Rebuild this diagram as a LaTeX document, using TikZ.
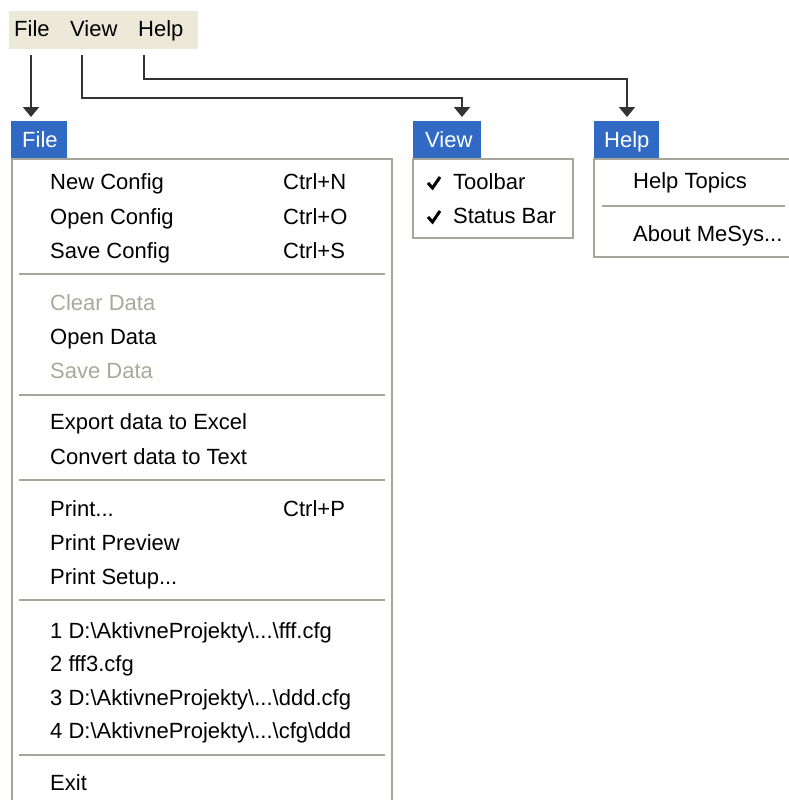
\documentclass[tikz,border=0pt]{standalone}
\usepackage{fontspec}
\setmainfont{Liberation Sans}
\usetikzlibrary{arrows.meta}
\definecolor{xpblue}{HTML}{316AC5}
\definecolor{xpbar}{HTML}{ECE9D8}
\definecolor{xpgray}{HTML}{ACA899}
\definecolor{xpline}{HTML}{A7A49A}
\definecolor{conncol}{HTML}{333333}
\begin{document}
\begin{tikzpicture}[x=1pt,y=-1pt,
  txt/.style={anchor=base west,inner sep=0pt,font=\fontsize{22}{26}\selectfont,text=black},
  dis/.style={txt,text=xpgray},
  ttl/.style={txt,text=white},
  titlebox/.style={fill=xpblue,draw=none,anchor=north west,inner sep=0pt},
  menubox/.style={draw=xpline,line width=1.6pt,fill=white},
  sep/.style={draw=xpline,line width=1.6pt},
  conn/.style={draw=conncol,line width=2pt,-{Triangle[width=16pt,length=10pt]}},
  chk/.style={draw=black,line width=3pt,line join=miter}]
\useasboundingbox (0,0) rectangle (788,800);
\fill[white] (0,0) rectangle (788,800);
% menu bar
\fill[xpbar] (9,11) rectangle (198,49);
\node[txt] (bfile) at (14,37) {File};
\node[txt] (bview) at (70,37) {View};
\node[txt] (bhelp) at (138,37) {Help};
% titles
\node[titlebox,minimum width=56pt,minimum height=38pt] (tfile) at (11,121) {};
\node[ttl] at (22,147) {File};
\node[titlebox,minimum width=68pt,minimum height=38pt] (tview) at (413,121) {};
\node[ttl] at (425,147) {View};
\node[titlebox,minimum width=65pt,minimum height=38pt] (thelp) at (594,121) {};
\node[ttl] at (604,147) {Help};
% connectors
\coordinate (fs) at (31,55);
\coordinate (fe) at (31,117);
\coordinate (vs) at (82,55);
\coordinate (ve) at (462,117);
\coordinate (hs) at (144,55);
\coordinate (he) at (627,117);
\draw[conn] (fs) -- (fe);
\draw[conn] (vs) -- (82,98) -- (462,98) -- (ve);
\draw[conn] (hs) -- (144,79) -- (627,79) -- (he);
% File menu
\draw[menubox] (12,159) rectangle (392,812);
\node[txt] at (50,189) {New Config};   \node[txt] at (283,189) {Ctrl+N};
\node[txt] at (50,224) {Open Config};  \node[txt] at (283,224) {Ctrl+O};
\node[txt] at (50,258) {Save Config};  \node[txt] at (283,258) {Ctrl+S};
\draw[sep] (19,274) -- (385,274);
\node[dis] at (50,310) {Clear Data};
\node[txt] at (50,344) {Open Data};
\node[dis] at (50,378) {Save Data};
\draw[sep] (19,395) -- (385,395);
\node[txt] at (50,429) {Export data to Excel};
\node[txt] at (50,464) {Convert data to Text};
\draw[sep] (19,480) -- (385,480);
\node[txt] at (50,516) {Print...};     \node[txt] at (283,516) {Ctrl+P};
\node[txt] at (50,550) {Print Preview};
\node[txt] at (50,584) {Print Setup...};
\draw[sep] (19,600) -- (385,600);
\node[txt] at (50,638) {1 D:\textbackslash AktivneProjekty\textbackslash...\textbackslash fff.cfg};
\node[txt] at (50,671) {2 fff3.cfg};
\node[txt] at (50,705) {3 D:\textbackslash AktivneProjekty\textbackslash...\textbackslash ddd.cfg};
\node[txt] at (50,738) {4 D:\textbackslash AktivneProjekty\textbackslash...\textbackslash cfg\textbackslash ddd};
\draw[sep] (19,755) -- (385,755);
\node[txt] at (50,790) {Exit};
% View menu
\draw[menubox] (413,159) rectangle (573,238);
\draw[chk] (428,183) -- (432.5,188) -- (440,177);
\node[txt] at (453,189) {Toolbar};
\draw[chk] (428,217) -- (432.5,222) -- (440,211);
\node[txt] at (453,223) {Status Bar};
% Help menu
\draw[menubox] (594,159) rectangle (800,257);
\node[txt] at (633,188) {Help Topics};
\draw[sep] (602,206) -- (785,206);
\node[txt] at (633,241) {About MeSys...};
\end{tikzpicture}
\end{document}
